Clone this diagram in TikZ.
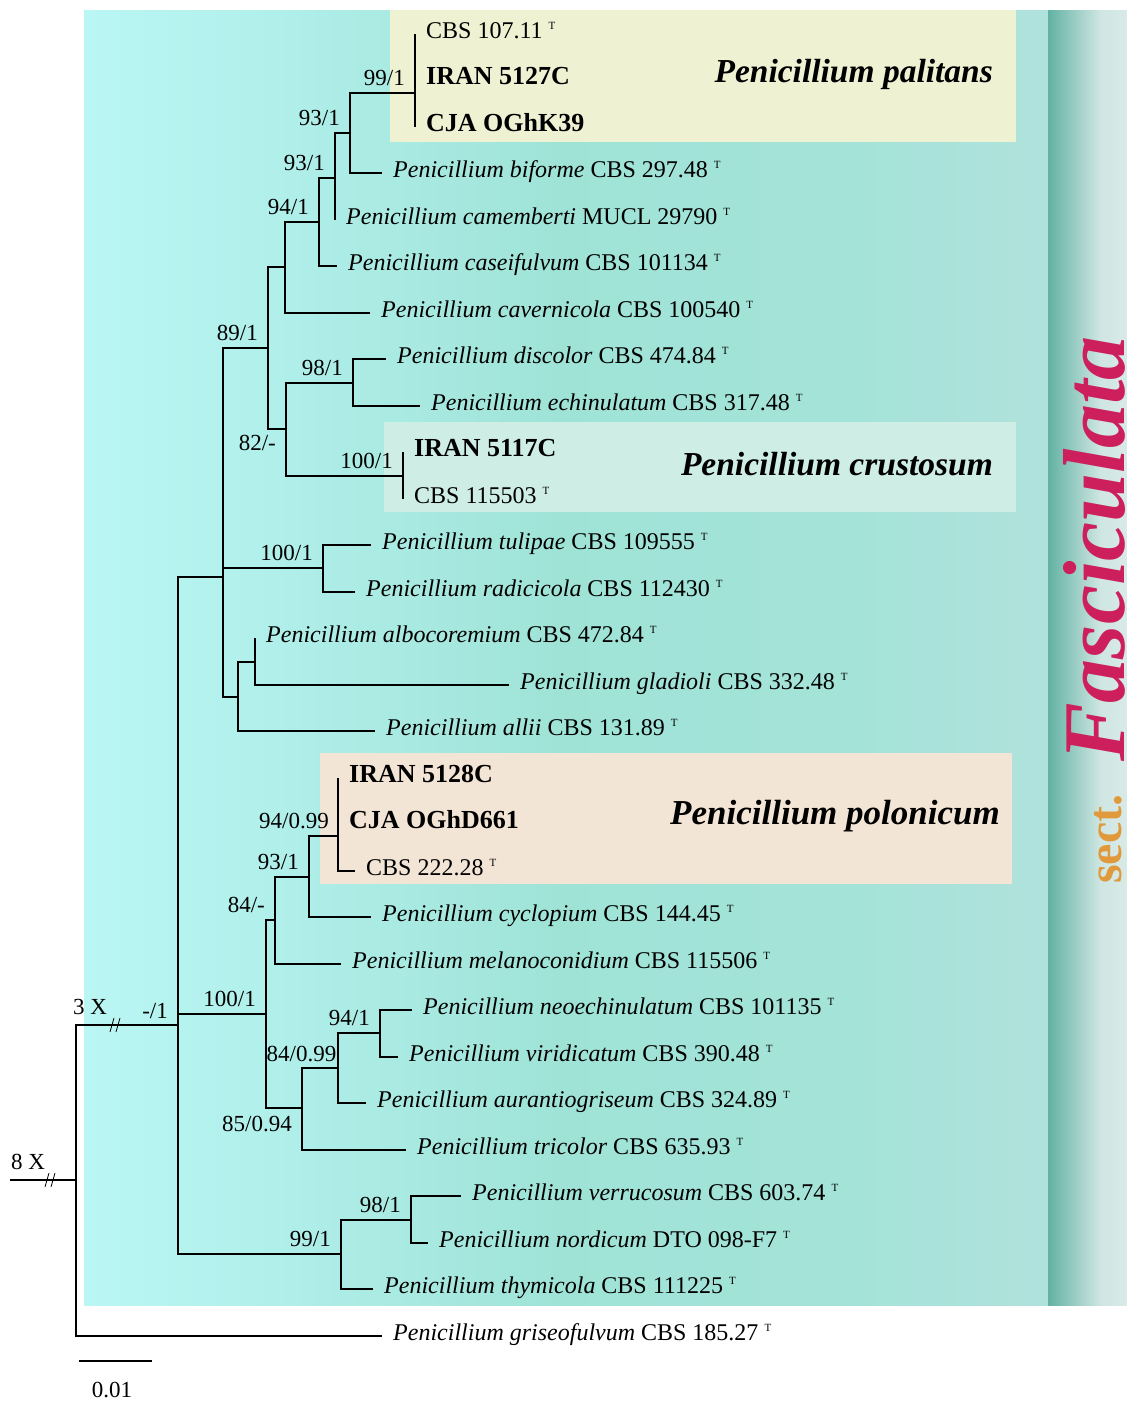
\documentclass[tikz,border=0pt]{standalone}
\usepackage{fontspec}
\setmainfont{Liberation Serif}
\usetikzlibrary{positioning}

\definecolor{panelA}{HTML}{BAF7F4}
\definecolor{panelB}{HTML}{B2F0EC}
\definecolor{panelC}{HTML}{9FE3D7}
\definecolor{panelD}{HTML}{B0E2DC}
\definecolor{stripA}{HTML}{62B2A4}
\definecolor{stripB}{HTML}{CFE6E2}
\definecolor{stripC}{HTML}{D8EAE7}
\definecolor{palbox}{HTML}{EEF2D3}
\definecolor{crubox}{HTML}{CDEDE5}
\definecolor{polbox}{HTML}{F3E5D5}
\definecolor{sectorange}{HTML}{E09A3C}
\definecolor{fascred}{HTML}{CC1F5C}

\newcommand{\pen}[1]{\textit{Penicillium #1}}
\newcommand{\extype}{\hspace{0.25em}\raisebox{0.38em}{\fontsize{11}{11}\selectfont T}}

\begin{document}
\begin{tikzpicture}[x=1pt,y=-1pt,
    br/.style={line width=2pt},
    leaf/.style={anchor=west, inner xsep=11pt, inner ysep=0pt, text height=16pt, text depth=6.4pt, font=\fontsize{24}{28}\selectfont},
    ours/.style={leaf, font=\fontsize{26}{30}\selectfont\bfseries},
    bs/.style={inner sep=1pt, font=\fontsize{23}{27}\selectfont},
    clade/.style={anchor=base east, inner sep=0pt, font=\fontsize{33.5}{38}\selectfont\bfseries\itshape},
    brk/.pic={\draw[line width=0.8pt] (-5,7) -- (-1,-7) (1,7) -- (5,-7);}
]
\useasboundingbox (0,0) rectangle (1127,1403);

% background panel and section strip
\shade[left color=panelA, right color=panelB] (84,10) rectangle (250.5,1305);
\shade[left color=panelB, right color=panelC] (250,10) rectangle (560.5,1305);
\shade[left color=panelC, right color=panelC!70!panelD] (560,10) rectangle (850.5,1305);
\shade[left color=panelC!70!panelD, right color=panelD] (850,10) rectangle (1048.5,1305);
\shade[left color=stripA, right color=stripB] (1048,10) rectangle (1100.5,1305);
\shade[left color=stripB, right color=stripC] (1100,10) rectangle (1127,1305);

% clade boxes
\fill[palbox] (390,10) rectangle (1016,142);
\fill[crubox] (384,422) rectangle (1016,512);
\fill[polbox] (320,753) rectangle (1012,884);

% internal nodes
\coordinate (stem) at (10,1180);
\coordinate (root) at (76,1180);
\coordinate (tr) at (178,1025);
\coordinate (big) at (223,577);
\coordinate (n89) at (268,348);
\coordinate (nA) at (285,267);
\coordinate (n94) at (319,222);
\coordinate (n93a) at (335,178);
\coordinate (n93b) at (350,133);
\coordinate (n99p) at (415,93);
\coordinate (n82) at (286,429);
\coordinate (n98) at (353,383);
\coordinate (n100c) at (403,476);
\coordinate (ntul) at (323,568);
\coordinate (nall) at (238,697);
\coordinate (nalb) at (255,662);
\coordinate (n100l) at (266,1014);
\coordinate (n84) at (275,920);
\coordinate (n93c) at (309,877);
\coordinate (n94p) at (338,836);
\coordinate (n85) at (302,1108);
\coordinate (n84b) at (338,1068);
\coordinate (n94b) at (380,1033);
\coordinate (n99b) at (341,1254);
\coordinate (n98b) at (411,1220);

% leaves
\node[leaf] (c10711) at (415,33.5) {CBS 107.11\extype};
\node[ours] (iran5127) at (415,80) {IRAN 5127C};
\node[ours] (ogHK39) at (415,126.5) {CJA OGhK39};
\node[leaf] (bifor) at (382,173) {\pen{biforme} CBS 297.48\extype};
\node[leaf] (camem) at (335,219.5) {\pen{camemberti} MUCL 29790\extype};
\node[leaf] (caseif) at (337,266) {\pen{caseifulvum} CBS 101134\extype};
\node[leaf] (cavern) at (370,312.5) {\pen{cavernicola} CBS 100540\extype};
\node[leaf] (discol) at (386,359) {\pen{discolor} CBS 474.84\extype};
\node[leaf] (echin) at (420,405.5) {\pen{echinulatum} CBS 317.48\extype};
\node[ours] (iran5117) at (403,452) {IRAN 5117C};
\node[leaf] (c115503) at (403,498.5) {CBS 115503\extype};
\node[leaf] (tulip) at (371,545) {\pen{tulipae} CBS 109555\extype};
\node[leaf] (radic) at (355,591.5) {\pen{radicicola} CBS 112430\extype};
\node[leaf] (alboc) at (255,638) {\pen{albocoremium} CBS 472.84\extype};
\node[leaf] (gladi) at (509,684.5) {\pen{gladioli} CBS 332.48\extype};
\node[leaf] (allii) at (375,731) {\pen{allii} CBS 131.89\extype};
\node[ours] (iran5128) at (338,777.5) {IRAN 5128C};
\node[ours] (ogHD661) at (338,824) {CJA OGhD661};
\node[leaf] (c22228) at (355,870.5) {CBS 222.28\extype};
\node[leaf] (cyclo) at (371,917) {\pen{cyclopium} CBS 144.45\extype};
\node[leaf] (melan) at (341,963.5) {\pen{melanoconidium} CBS 115506\extype};
\node[leaf] (neoech) at (412,1010) {\pen{neoechinulatum} CBS 101135\extype};
\node[leaf] (virid) at (398,1056.5) {\pen{viridicatum} CBS 390.48\extype};
\node[leaf] (auran) at (366,1103) {\pen{aurantiogriseum} CBS 324.89\extype};
\node[leaf] (trico) at (406,1149.5) {\pen{tricolor} CBS 635.93\extype};
\node[leaf] (verru) at (461,1196) {\pen{verrucosum} CBS 603.74\extype};
\node[leaf] (nordi) at (428,1242.5) {\pen{nordicum} DTO 098-F7\extype};
\node[leaf] (thymi) at (373,1289) {\pen{thymicola} CBS 111225\extype};
\node[leaf] (grise) at (382,1335.5) {\pen{griseofulvum} CBS 185.27\extype};

% branches
\draw[br] (stem) -- (root);
\draw[br] (root) |- (tr) (root) |- (grise.west);
\draw[br] (tr) |- (big) (tr) |- (n100l) (tr) |- (n99b);
\draw[br] (big) |- (n89) (big) |- (ntul) (big) |- (nall);
\draw[br] (n89) |- (nA) (n89) |- (n82);
\draw[br] (nA) |- (n94) (nA) |- (cavern.west);
\draw[br] (n94) |- (n93a) (n94) |- (caseif.west);
\draw[br] (n93a) |- (n93b) (n93a) |- (camem.west);
\draw[br] (n93b) |- (n99p) (n93b) |- (bifor.west);
\draw[br] (n99p) |- (c10711.west) (n99p) |- (ogHK39.west);
\draw[br] (n82) |- (n98) (n82) |- (n100c);
\draw[br] (n98) |- (discol.west) (n98) |- (echin.west);
\draw[br] (n100c) |- (iran5117.west) (n100c) |- (c115503.west);
\draw[br] (ntul) |- (tulip.west) (ntul) |- (radic.west);
\draw[br] (nall) |- (nalb) (nall) |- (allii.west);
\draw[br] (nalb) |- (alboc.west) (nalb) |- (gladi.west);
\draw[br] (n100l) |- (n84) (n100l) |- (n85);
\draw[br] (n84) |- (n93c) (n84) |- (melan.west);
\draw[br] (n93c) |- (n94p) (n93c) |- (cyclo.west);
\draw[br] (n94p) |- (iran5128.west) (n94p) |- (c22228.west);
\draw[br] (n85) |- (n84b) (n85) |- (trico.west);
\draw[br] (n84b) |- (n94b) (n84b) |- (auran.west);
\draw[br] (n94b) |- (neoech.west) (n94b) |- (virid.west);
\draw[br] (n99b) |- (n98b) (n99b) |- (thymi.west);
\draw[br] (n98b) |- (verru.west) (n98b) |- (nordi.west);

% support values
\node[bs, above left=6pt and 9pt of n99p] (l99p) {99/1};
\node[bs, above left=6pt and 9pt of n93b] (l93b) {93/1};
\node[bs, above left=6pt and 9pt of n93a] (l93a) {93/1};
\node[bs, above left=6pt and 9pt of n94] (l94) {94/1};
\node[bs, above left=6pt and 9pt of n89] (l89) {89/1};
\node[bs, above left=6pt and 9pt of n98] (l98) {98/1};
\node[bs, below left=5pt and 9pt of n82] (l82) {82/-};
\node[bs, above left=6pt and 9pt of n100c] (l100c) {100/1};
\node[bs, above left=6pt and 9pt of ntul] (ltul) {100/1};
\node[bs, above left=6pt and 8pt of n94p] (l94p) {94/0.99};
\node[bs, above left=6pt and 9pt of n93c] (l93c) {93/1};
\node[bs, above left=6pt and 9pt of n84] (l84) {84/-};
\node[bs, above left=6pt and 9pt of n100l] (l100l) {100/1};
\node[bs, above left=5pt and 0.5pt of n84b] (l84b) {84/0.99};
\node[bs, below left=7pt and 9pt of n85] (l85) {85/0.94};
\node[bs, above left=6pt and 9pt of n94b] (l94b) {94/1};
\node[bs, above left=6pt and 9pt of n99b] (l99b) {99/1};
\node[bs, above left=6pt and 9pt of n98b] (l98b) {98/1};
\node[bs, above left=5pt and 9pt of tr] (ltr) {-/1};

% breaks and scale
\node[bs] (x3) at (90,1007) {3 X};
\node[bs] (x8) at (28,1162) {8 X};
\pic at (115,1025) {brk};
\pic at (50,1180) {brk};
\coordinate (sbA) at (79,1361);
\coordinate (sbB) at (152,1361);
\draw[br] (sbA) -- (sbB);
\node[bs] (sbl) at (112,1390) {0.01};

% clade names
\node[clade] (palit) at (993,82) {Penicillium palitans};
\node[clade] (crust) at (993,475) {Penicillium crustosum};
\node[clade, font=\fontsize{35}{40}\selectfont\bfseries\itshape] (polon) at (1000,824) {Penicillium polonicum};

% section
\node[rotate=90, anchor=base west, inner sep=0pt, text=sectorange, font=\fontsize{48}{48}\selectfont\bfseries] (sect) at (1121,884) {sect.};
\node[rotate=90, anchor=base west, inner sep=0pt, text=fascred, font=\fontsize{88}{88}\selectfont\bfseries\itshape] (fasc) at (1124,762) {Fasciculata};
\end{tikzpicture}
\end{document}
